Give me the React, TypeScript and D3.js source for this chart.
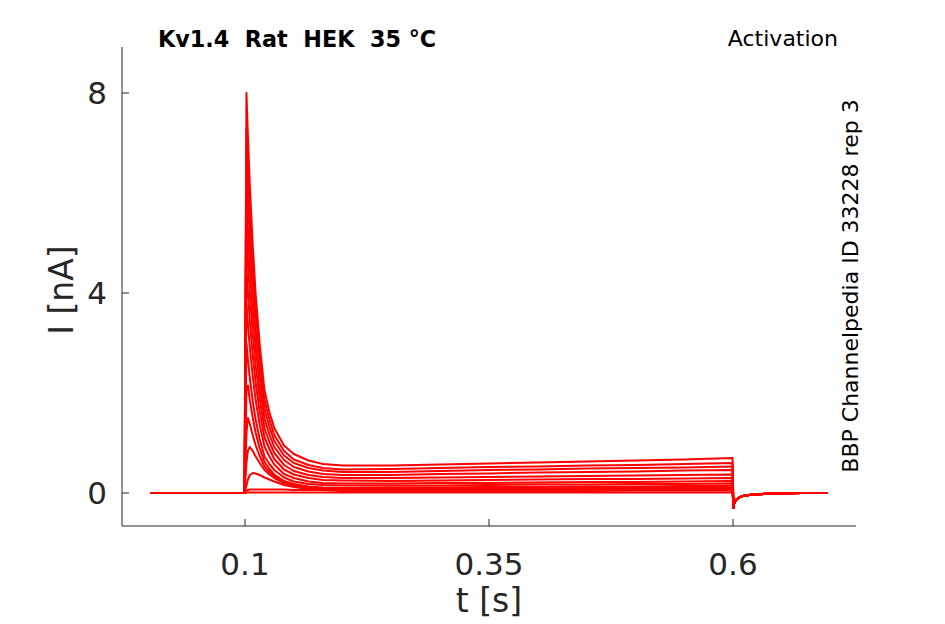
import * as d3 from "d3"

// Tiempos comunes (s)
const preTimes = [0.003, 0.0995]
const stepTimes = [0.1015, 0.103, 0.105, 0.108, 0.111, 0.115, 0.12, 0.125, 0.13, 0.14, 0.15, 0.165, 0.18, 0.2, 0.25, 0.3, 0.35, 0.4, 0.45, 0.5, 0.55, 0.5995]
const tailTimes = [0.6005, 0.601, 0.603, 0.606, 0.61, 0.62, 0.64, 0.67, 0.697]

// Corriente (nA) antes del pulso y después del pulso
const preValues = [0, 0]
const tailValues = [-0.3, -0.22, -0.14, -0.09, -0.06, -0.03, -0.01, 0, 0]

// Corriente durante el pulso, una traza por voltaje
const trace1 = [8.0, 7.14, 6.13, 4.93, 3.96, 2.99, 2.05, 1.62, 1.3, 0.95, 0.78, 0.65, 0.58, 0.55, 0.55, 0.57, 0.59, 0.61, 0.63, 0.65, 0.67, 0.7]
const trace2 = [7.3, 6.51, 5.59, 4.49, 3.6, 2.71, 1.85, 1.47, 1.16, 0.84, 0.67, 0.56, 0.5, 0.47, 0.48, 0.5, 0.52, 0.53, 0.55, 0.56, 0.58, 0.6]
const trace3 = [6.6, 5.89, 5.05, 4.06, 3.25, 2.45, 1.67, 1.32, 1.04, 0.75, 0.6, 0.5, 0.45, 0.42, 0.42, 0.44, 0.46, 0.47, 0.49, 0.5, 0.51, 0.53]
const trace4 = [5.9, 5.26, 4.51, 3.62, 2.9, 2.17, 1.48, 1.17, 0.92, 0.66, 0.52, 0.43, 0.38, 0.36, 0.36, 0.38, 0.39, 0.41, 0.42, 0.43, 0.45, 0.46]
const trace5 = [5.2, 4.63, 3.97, 3.18, 2.54, 1.9, 1.29, 1.02, 0.8, 0.56, 0.44, 0.36, 0.32, 0.3, 0.3, 0.31, 0.32, 0.33, 0.34, 0.35, 0.36, 0.37]
const trace6 = [4.5, 4.01, 3.43, 2.75, 2.19, 1.64, 1.11, 0.88, 0.68, 0.47, 0.37, 0.3, 0.26, 0.25, 0.24, 0.25, 0.26, 0.27, 0.28, 0.28, 0.29, 0.3]
const trace7 = [3.8, 3.38, 2.9, 2.32, 1.85, 1.37, 0.93, 0.73, 0.57, 0.38, 0.3, 0.23, 0.2, 0.19, 0.19, 0.2, 0.2, 0.21, 0.22, 0.22, 0.23, 0.24]
const trace8 = [3.0, 2.67, 2.29, 1.83, 1.46, 1.08, 0.73, 0.58, 0.46, 0.31, 0.23, 0.18, 0.16, 0.15, 0.15, 0.15, 0.16, 0.17, 0.17, 0.18, 0.18, 0.19]
const trace9 = [2.1, 2.15, 1.85, 1.5, 1.2, 0.9, 0.62, 0.48, 0.37, 0.24, 0.18, 0.13, 0.11, 0.1, 0.11, 0.11, 0.12, 0.12, 0.13, 0.13, 0.14, 0.14]
const trace10 = [1.2, 1.5, 1.38, 1.15, 0.95, 0.74, 0.53, 0.42, 0.33, 0.22, 0.16, 0.11, 0.09, 0.08, 0.08, 0.09, 0.09, 0.09, 0.1, 0.1, 0.1, 0.1]
const trace11 = [0.6, 0.85, 0.92, 0.84, 0.73, 0.6, 0.46, 0.37, 0.3, 0.2, 0.14, 0.09, 0.07, 0.06, 0.05, 0.06, 0.06, 0.06, 0.07, 0.07, 0.07, 0.07]
const trace12 = [0.15, 0.27, 0.36, 0.4, 0.39, 0.36, 0.31, 0.27, 0.23, 0.16, 0.12, 0.08, 0.06, 0.04, 0.03, 0.03, 0.04, 0.04, 0.04, 0.05, 0.05, 0.05]
const trace13 = [0.05, 0.06, 0.07, 0.07, 0.07, 0.07, 0.07, 0.07, 0.07, 0.07, 0.06, 0.06, 0.06, 0.06, 0.06, 0.06, 0.06, 0.06, 0.06, 0.06, 0.06, 0.06]
const trace14 = [0.01, 0.01, 0.01, 0.01, 0.01, 0.01, 0.01, 0.01, 0.01, 0.01, 0.01, 0.01, 0.01, 0.01, 0.01, 0.01, 0.01, 0.01, 0.01, 0.01, 0.01, 0.01]

const traces = [trace1, trace2, trace3, trace4, trace5, trace6, trace7, trace8, trace9, trace10, trace11, trace12, trace13, trace14]

const xTicks = [0.1, 0.35, 0.6]
const yTicks = [0, 4, 8]

const width = 945
const height = 624
const margin = { top: 47, right: 89, bottom: 98, left: 122 }
const axisColor = "#262626"
const font = "DejaVu Sans, sans-serif"

export default function App() {
  const x = d3.scaleLinear().domain([-0.026, 0.726]).range([margin.left, width - margin.right])
  const y = d3.scaleLinear().domain([-0.66, 8.92]).range([height - margin.bottom, margin.top])

  const line = d3
    .line<[number, number]>()
    .x((d) => x(d[0]))
    .y((d) => y(d[1]))

  const paths = traces.map((vals) => {
    const pts: [number, number][] = []
    preTimes.forEach((t, i) => pts.push([t, preValues[i]]))
    stepTimes.forEach((t, i) => pts.push([t, vals[i]]))
    tailTimes.forEach((t, i) => pts.push([t, tailValues[i]]))
    return line(pts)
  })

  const x0 = margin.left
  const x1 = width - margin.right
  const yb = height - margin.bottom

  return (
    <svg width={width} height={height} style={{ position: "absolute", left: 0, top: 0, background: "#fff" }} fontFamily={font}>
      <g fill="none" stroke="#ff0000" strokeWidth={2} strokeLinejoin="round">
        {paths.map((d, i) => (
          <path key={i} d={d || ""} />
        ))}
      </g>

      {/* Ejes */}
      <line x1={x0} x2={x0} y1={margin.top} y2={yb} stroke={axisColor} strokeWidth={1} />
      <line x1={x0} x2={x1} y1={yb} y2={yb} stroke={axisColor} strokeWidth={1} />
      {yTicks.map((t) => (
        <g key={t}>
          <line x1={x0} x2={x0 + 7} y1={y(t)} y2={y(t)} stroke={axisColor} />
          <text x={x0 - 15} y={y(t)} dy="0.36em" textAnchor="end" fontSize={31} fill={axisColor}>
            {t}
          </text>
        </g>
      ))}
      {xTicks.map((t) => (
        <g key={t}>
          <line x1={x(t)} x2={x(t)} y1={yb} y2={yb - 7} stroke={axisColor} />
          <text x={x(t)} y={575} textAnchor="middle" fontSize={31} fill={axisColor}>
            {t}
          </text>
        </g>
      ))}

      <text x={(x0 + x1) / 2} y={612} textAnchor="middle" fontSize={33} fill={axisColor}>
        t [s]
      </text>
      <text transform={`translate(73,290) rotate(-90)`} textAnchor="middle" fontSize={33} fill={axisColor}>
        I [nA]
      </text>

      <text x={158} y={47} fontSize={22.3} fontWeight="bold" fill="#000" style={{ whiteSpace: "pre" }}>
        {"Kv1.4  Rat  HEK  35 °C"}
      </text>
      <text x={838} y={46} textAnchor="end" fontSize={22} fill="#000">
        Activation
      </text>
      <text transform={`translate(858,286) rotate(-90)`} textAnchor="middle" fontSize={22} fill="#000">
        BBP Channelpedia ID 33228 rep 3
      </text>
    </svg>
  )
}
